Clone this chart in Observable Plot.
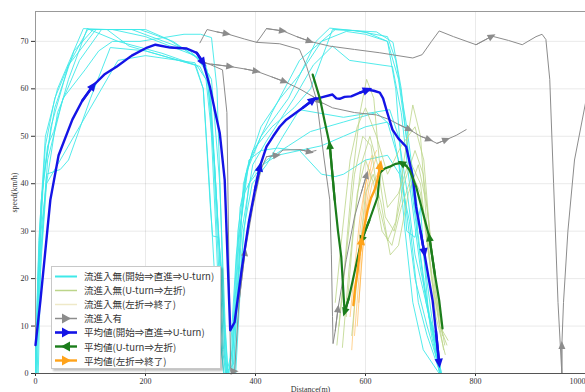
<!DOCTYPE html>
<html><head><meta charset="utf-8">
<script src="https://cdn.jsdelivr.net/npm/d3@7"></script>
<script src="https://cdn.jsdelivr.net/npm/@observablehq/plot@0.6"></script>
<style>
body{margin:0;background:#fff;}
#wrap{position:relative;width:585px;height:392px;overflow:hidden;background:#fff;}
#legend{position:absolute;left:51px;top:266px;width:168px;height:101px;background:#fff;border:1px solid #c8c8c8;box-shadow:2px 2px 2px rgba(0,0,0,0.25);font-family:"Noto Sans CJK JP";font-size:9.5px;color:#333;}
.row{position:absolute;left:2px;height:14px;display:flex;align-items:center;white-space:nowrap;}
.row svg{margin-right:6px;}
</style></head>
<body><div id="wrap"><div id="chart"></div><div id="legend"></div></div>
<script>
// ---- tick values / labels ----
const xTicks = [0, 200, 400, 600, 800, 1000];
const yTicks = [0, 10, 20, 30, 40, 50, 60, 70];
const xDomain = [0, 1000];
const yDomain = [0, 76.3];
const xLabel = "Distance(m)";
const yLabel = "speed(km/h)";
const legendLabels = [
  "流進入無(開始⇒直進⇒U-turn)",
  "流進入無(U-turn⇒左折)",
  "流進入無(左折⇒終了)",
  "流進入有",
  "平均値(開始⇒直進⇒U-turn)",
  "平均値(U-turn⇒左折)",
  "平均値(左折⇒終了)"
];

// ---- individual runs: start -> straight -> U-turn (cyan) ----
const c1 = [[0,0],[4,18],[12,38],[28,52],[60,65],[95,72.5],[190,72.5],[250,70],[300,66],[320,62],[335,40],[345,10],[350,0],[356,3],[368,30],[382,42],[410,50],[460,58],[510,70],[535,72.8],[600,72],[640,70],[660,62],[680,45],[700,25],[720,8],[735,0]];
const c2 = [[2,0],[6,22],[15,42],[35,56],[70,68],[105,72.5],[140,72.5],[200,71],[290,67],[315,63],[325,45],[340,15],[347,0],[358,5],[372,35],[390,45],[430,55],[480,66],[520,70],[545,72.5],[620,72],[650,69.8],[665,60],[686,37],[710,15],[736,0]];
const c3 = [[0,0],[5,15],[10,30],[20,40],[45,45],[80,52],[120,60],[150,66],[200,67],[260,66],[290,65.5],[305,60],[318,35],[322,29],[333,28.7],[340,20],[348,0],[362,0],[375,25],[388,40],[420,45],[460,48],[500,51],[560,53],[620,55],[648,52],[668,40],[690,20],[712,10],[737,0]];
const c4 = [[5,0],[10,25],[22,45],[50,58],[90,64],[115,68],[140,70],[190,70],[270,71.5],[300,71.5],[320,70.8],[330,60],[338,30],[345,0],[360,2],[375,30],[395,44],[420,49],[470,58],[505,65],[540,69],[571,66],[630,65],[649,64.7],[665,55],[680,40],[700,22],[738,0]];
const c5 = [[0,0],[3,12],[8,30],[18,48],[35,58],[60,65],[110,72.5],[175,72.5],[210,71],[280,68],[310,65],[318,55],[328,30],[336,8],[342,0],[352,0],[365,25],[380,38],[400,43],[440,46],[480,47],[520,48],[560,50],[600,52],[640,53],[660,45],[672,30],[686,15],[705,5],[734,0]];
const c6 = [[3,0],[8,20],[20,40],[40,55],[80,66],[120,72.5],[200,72.5],[240,70.5],[295,66.5],[312,64],[322,50],[332,25],[340,5],[346,0],[356,0],[368,20],[378,40],[395,47],[430,52],[470,56],[500,60],[540,72.5],[580,72.3],[640,71],[655,66],[675,52],[700,30],[718,14],[735,0]];
const c7 = [[0,0],[7,22],[20,42],[45,43],[60,45],[100,58],[136,68.7],[200,68],[260,66],[293,65],[310,62],[325,45],[338,20],[350,0],[360,0],[374,32],[388,45],[410,47],[440,47.5],[480,47],[520,42],[545,41.5],[560,42],[600,45],[640,46],[662,42],[680,32],[696,15],[712,8],[736,0]];
const c8 = [[0,0],[6,28],[18,50],[40,60],[87,72.7],[130,72.5],[170,69],[230,67],[290,65],[305,60],[315,42],[330,12],[343,0],[357,0],[370,28],[384,43],[410,52],[445,58],[480,63],[520,70],[565,72.1],[600,71.5],[640,70],[655,60],[665,45],[675,30],[690,28.7],[700,35],[708,22],[715,12],[722,10],[738,0]];
const c9 = [[0,0],[4,20],[10,36],[22,48],[33,51],[60,62],[94,72.7],[150,70],[230,67.5],[299,64.7],[318,60],[330,35],[342,5],[348,0],[364,0],[378,30],[394,40],[420,44],[450,50],[480,55.6],[560,54],[644,55.6],[660,50],[676,38],[690,25],[704,18],[720,10],[735,0]];

// ---- individual runs: U-turn -> left turn (yellow-green) ----
const g1 = [[548,6],[560,20],[575,40],[590,55],[602,62],[615,58],[625,45],[640,35],[660,38],[680,45],[700,40],[720,20],[742,5]];
const g2 = [[552,10],[565,25],[580,42],[595,50],[610,48],[625,35],[640,28],[655,32],[670,45],[686,56.6],[700,50],[712,30],[728,12],[745,4]];
const g3 = [[558,5.5],[570,22],[585,38],[600,45],[615,40],[630,30],[648,27],[665,35],[685,42],[700,38],[715,25],[735,10],[748,6]];
const g4 = [[565,12],[578,30],[592,44],[608,50],[622,44],[636,33],[652,30],[670,40],[690,47],[705,42],[722,25],[740,8]];
const g5 = [[575,8],[588,24],[600,38],[614,42],[628,36],[645,25],[660,27],[678,38],[696,44],[712,35],[726,18],[744,6]];
const g6 = [[545,15],[558,30],[572,45],[585,52],[600,56],[620,50],[640,42],[665,48],[690,52],[706,45],[718,28],[735,10],[750,7]];

// ---- individual runs: left turn -> end (pale / thin orange) ----
const o1 = [[575,5],[582,18],[590,30],[598,38],[606,44],[612,46]];
const o2 = [[580,8],[588,20],[596,32],[604,40],[612,45],[620,47]];
const o3 = [[585,10],[592,22],[600,34],[610,42],[620,45.7]];
const o4 = [[572,12],[580,22],[590,33],[600,40],[608,43]];
const o5 = [[588,15],[595,26],[603,35],[612,40],[622,42]];

// ---- runs with inflow (gray, arrows) ----
const gray1 = [[299,69.7],[305,71],[312,72.5],[330,72],[348,71.6],[380,70.5],[402,69.8],[408,70.7],[420,72.7],[450,72.2],[475,71],[499,70],[535,69],[580,68.3],[626,67.6],[686,66.5],[703,67.2],[720,70],[734,72.2],[760,71],[801,69.3],[830,71.1],[860,70.2],[885,69.3],[910,71],[921,71.5],[928,70.4],[935,62],[942,40],[950,15],[956,2],[957,0],[957,6],[960,15],[968,30],[980,45],[1000,57]];
const gray1Arrows = [4, 9, 11, 21, 32];
const gray2 = [[299,65.5],[320,65.2],[354,64.7],[380,64.2],[402,63.7],[430,62.5],[453,61.5],[480,60],[504,58.4],[517,57.3],[540,56],[580,55],[620,54.5],[644,53.5],[660,52.5],[680,51.4],[700,50],[716,49.3],[730,48.5],[747,49.3],[765,50.2],[783,51.4]];
const gray2Arrows = [2, 4, 6, 9, 15, 17, 19];
const gray3 = [[300,66],[340,64],[348,55],[352,20],[355,0.5],[362,0.5],[370,15],[381,25.6],[395,35],[410,43],[420,45.7],[439,46],[450,47.1],[480,47.2],[499,46.7],[510,47]];
const gray3Arrows = [5, 7, 11, 14];
const gray4 = [[402,69.8],[444,69.5],[480,68.3],[493,64.7],[511,57.7],[525,45],[535,36.6],[538,25],[540,12],[541,6.3],[545,9],[550,13.7],[565,24],[580,33],[592,38],[602,41.9]];
const gray4Arrows = [11, 15];

// ---- averages ----
const blueAvg = [[0,6],[9,15.4],[18,26],[27,36.6],[42,46],[67,53.5],[85,57.5],[105,60.7],[125,63],[148,64.7],[175,67],[203,68.7],[218,69.3],[245,68.7],[275,68.5],[293,67.6],[305,65.5],[317,60.5],[326,55.5],[335,50.7],[344,40.8],[349,25],[354,9.1],[362,10.8],[375,22],[388,32],[399,38.7],[408,43.6],[420,47.8],[432,50],[444,52],[456,53.5],[468,54.5],[486,56],[505,57.7],[520,58.2],[540,58.8],[547,58],[553,57.9],[562,58.3],[574,58.4],[590,59.2],[604,59.8],[615,59.6],[626,59.2],[632,58],[638,55.6],[649,51.4],[660,49.5],[674,47.8],[686,41.4],[692,35.1],[700,30],[707,25.4],[715,20],[722,15.4],[728,9],[734,2.1]];
const blueArrows = [7, 16, 27, 34, 42, 53, 57];
const greenAvg = [[740,9.5],[734,15.4],[726,21],[716,28.8],[703,34.5],[692,39.4],[680,42.9],[674,43.8],[665,44.4],[655,44.2],[644,43.6],[635,43.2],[626,42.3],[622,37.2],[607,32.3],[593,28.1],[585,24],[577,19.7],[570,16],[562,12.9],[556,24.5],[550,30],[544,36.6],[535,48.2],[526,53],[517,58],[504,63]];
const greenArrows = [3, 8, 15, 19, 23];
const orangeAvg = [[578,14.4],[581,18],[585,21],[589,25],[593,28.1],[598,31],[604,34.5],[610,37],[616,38.5],[620,40],[624,42],[627,44]];
const orangeArrows = [4, 11];

// ---- colours ----
const COL = {cyan:"#3fe9e9", yg:"#bcd58a", pale:"#efe9c8", gray:"#8c8c8c", blue:"#1414e6", green:"#1b7d1b", orange:"#ffa31a"};

function rows(series, prefix) {
  return series.flatMap((s, k) => s.map(([x, y]) => ({x, y, id: prefix + k})));
}
function arrowRows(pts, idxs, prefix) {
  return idxs.flatMap((i, k) => [pts[i - 1], pts[i]].map(([x, y]) => ({x, y, id: prefix + k})));
}

const cyanRows = rows([c1,c2,c3,c4,c5,c6,c7,c8,c9], "c");
const ygRows = rows([g1,g2,g3,g4,g5,g6], "g");
const orRows = rows([o1,o2,o3,o4,o5], "o");
const grayRows = rows([gray1,gray2,gray3,gray4], "k");
const grayArrowRows = [
  ...arrowRows(gray1, gray1Arrows, "a1"), ...arrowRows(gray2, gray2Arrows, "a2"),
  ...arrowRows(gray3, gray3Arrows, "a3"), ...arrowRows(gray4, gray4Arrows, "a4")];

const plot = Plot.plot({
  width: 585, height: 392,
  marginLeft: 35, marginRight: 0, marginTop: 11, marginBottom: 19,
  style: {fontFamily: "Liberation Serif", fontSize: "8px", color: "#333", background: "#fff"},
  x: {domain: xDomain, ticks: xTicks, tickFormat: d => String(d), grid: true, tickSize: 3, tickPadding: 2, label: xLabel, labelAnchor: "center", labelOffset: 18, labelArrow: "none"},
  y: {domain: yDomain, ticks: yTicks, grid: true, tickSize: 4, tickPadding: 3, label: yLabel, labelAnchor: "center", labelOffset: 24, labelArrow: "none"},
  marks: [
    Plot.ruleY([yDomain[1]], {stroke: "#999"}),
    Plot.ruleX([xDomain[0]], {stroke: "#999"}),
    Plot.line(cyanRows, {x: "x", y: "y", z: "id", stroke: COL.cyan, strokeWidth: 1, strokeOpacity: 0.9}),
    Plot.line(orRows, {x: "x", y: "y", z: "id", stroke: COL.orange, strokeWidth: 0.8, strokeOpacity: 0.6}),
    Plot.line(ygRows, {x: "x", y: "y", z: "id", stroke: COL.yg, strokeWidth: 0.9, strokeOpacity: 0.9}),
    Plot.line(grayRows, {x: "x", y: "y", z: "id", stroke: COL.gray, strokeWidth: 1}),
    Plot.line(grayArrowRows, {x: "x", y: "y", z: "id", stroke: COL.gray, strokeWidth: 1, markerEnd: "arrow"}),
    Plot.line(blueAvg.map(([x,y]) => ({x,y})), {x: "x", y: "y", stroke: COL.blue, strokeWidth: 2.4}),
    Plot.line(arrowRows(blueAvg, blueArrows, "b"), {x: "x", y: "y", z: "id", stroke: COL.blue, strokeWidth: 2.4, markerEnd: "arrow"}),
    Plot.line(greenAvg.map(([x,y]) => ({x,y})), {x: "x", y: "y", stroke: COL.green, strokeWidth: 2.2}),
    Plot.line(arrowRows(greenAvg, greenArrows, "gr"), {x: "x", y: "y", z: "id", stroke: COL.green, strokeWidth: 2.2, markerEnd: "arrow"}),
    Plot.line(orangeAvg.map(([x,y]) => ({x,y})), {x: "x", y: "y", stroke: COL.orange, strokeWidth: 2.4}),
    Plot.line(arrowRows(orangeAvg, orangeArrows, "or"), {x: "x", y: "y", z: "id", stroke: COL.orange, strokeWidth: 2.4, markerEnd: "arrow"}),
    Plot.ruleY([yDomain[0]], {stroke: "#555"})
  ]
});

// filled triangular arrowheads
const markerSize = {[COL.gray]: 10, [COL.blue]: 12, [COL.green]: 11, [COL.orange]: 12};
plot.querySelectorAll("marker").forEach(m => {
  const c = m.getAttribute("stroke");
  m.setAttribute("markerUnits", "userSpaceOnUse");
  const s = markerSize[c] || 10;
  m.setAttribute("markerWidth", s);
  m.setAttribute("markerHeight", s);
  m.setAttribute("fill", c);
  m.setAttribute("stroke", "none");
  const p = m.querySelector("path");
  if (p) p.setAttribute("d", "M-4,-3.5L4,0L-4,3.5Z");
});
// remove any automatic arrow glyph from axis labels; keep last x tick inside the page
plot.querySelectorAll("text").forEach(t => {
  if (/[↑→←↓]/.test(t.textContent) && t.textContent.length > 2) {
    t.textContent = t.textContent.replace(/[↑→←↓]/g, "").trim();
  }
  if (t.textContent === String(xTicks[xTicks.length - 1])) {
    t.setAttribute("text-anchor", "end");
  }
});
document.getElementById("chart").appendChild(plot);

// legend
const legendStyles = [
  {c: COL.cyan, w: 2, arrow: null},
  {c: COL.yg, w: 1.5, arrow: null},
  {c: COL.pale, w: 1.5, arrow: null},
  {c: COL.gray, w: 1.5, arrow: "r"},
  {c: COL.blue, w: 2.6, arrow: "r"},
  {c: COL.green, w: 2.4, arrow: "l"},
  {c: COL.orange, w: 2.4, arrow: "r"}
];
const lg = document.getElementById("legend");
legendLabels.forEach((t, i) => {
  const st = legendStyles[i];
  const row = document.createElement("div");
  row.className = "row";
  row.style.top = (2 + i * 14.1) + "px";
  let tri = "";
  if (st.arrow === "r") tri = `<path d="M8,1.5L17,6.5L8,11.5Z" fill="${st.c}"/>`;
  if (st.arrow === "l") tri = `<path d="M16,1.5L7,6.5L16,11.5Z" fill="${st.c}"/>`;
  row.innerHTML = `<svg width="24" height="13"><line x1="1" x2="23" y1="6.5" y2="6.5" stroke="${st.c}" stroke-width="${st.w}"/>${tri}</svg><span>${t}</span>`;
  lg.appendChild(row);
});
</script></body></html>
